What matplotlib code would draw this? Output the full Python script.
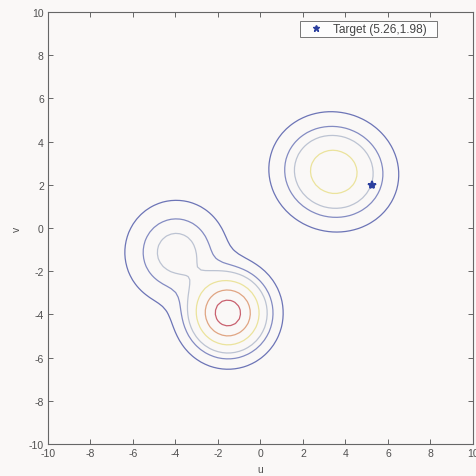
import numpy as np
import matplotlib
matplotlib.use("Agg")
import matplotlib.pyplot as plt
from matplotlib.lines import Line2D

plt.rcParams["font.family"] = ["Liberation Sans", "DejaVu Sans"]
plt.rcParams["axes.unicode_minus"] = False

# Gaussian mixture components: weight, mean (u, v), covariance
weights = [0.470, 0.167, 0.363]
mean_u = [-1.53, -3.97, 3.45]
mean_v = [-3.94, -1.13, 2.60]
cov_uu = [1.00, 1.51, 1.77]
cov_vv = [1.00, 1.51, 1.47]
cov_uv = [0.0, 0.0, -0.07]

# contour levels of the log density
log_levels = [-5.97, -4.84, -4.30, -3.67, -3.15, -2.77]
level_colors = ["#6c74b6", "#838bc2", "#bcc3d2", "#ebe39c", "#e0a583", "#c9616f"]

target_u, target_v = 5.26, 1.98
axis_ticks = [-10, -8, -6, -4, -2, 0, 2, 4, 6, 8, 10]

u = np.linspace(-10, 10, 101)
v = np.linspace(-10, 10, 101)
U, V = np.meshgrid(u, v)

density = np.zeros_like(U)
for w, mu, mv, a, d, b in zip(weights, mean_u, mean_v, cov_uu, cov_vv, cov_uv):
    det = a * d - b * b
    du, dv = U - mu, V - mv
    q = (d * du * du - 2 * b * du * dv + a * dv * dv) / det
    density += w * np.exp(-0.5 * q) / (2 * np.pi * np.sqrt(det))
Z = np.log(density)

bg = "#faf8f7"
fig = plt.figure(figsize=(4.77, 4.77), dpi=100, facecolor=bg)
ax = fig.add_axes([0.1006, 0.067, 0.891, 0.9057], facecolor=bg)

ax.contour(U, V, Z, levels=log_levels, colors=level_colors, linewidths=0.9)
ax.plot([target_u], [target_v], linestyle="none", marker="*", color="#2b3f9e",
        markersize=6, markeredgewidth=1.3)

ax.set_xlim(-10, 10)
ax.set_ylim(-10, 10)
ax.set_xticks(axis_ticks)
ax.set_yticks(axis_ticks)
txt = "#505050"
ax.tick_params(direction="in", length=3.5, width=0.7, colors="#666666",
               labelcolor=txt, labelsize=7.5, top=True, right=True, pad=3)
for s in ax.spines.values():
    s.set_color("#666666")
    s.set_linewidth(0.8)
ax.set_xlabel("u", fontsize=7.5, color=txt, labelpad=4)
ax.set_ylabel("v", fontsize=7.5, color=txt, labelpad=5)

handle = Line2D([], [], linestyle="none", marker="*", color="#2b3f9e",
                markersize=5, markeredgewidth=1.0)
leg = ax.legend([handle], ["Target (5.26,1.98)"], loc="upper left",
                bbox_to_anchor=(0.593, 0.0, 0.322, 0.979), mode="expand",
                fontsize=8.6, frameon=True, fancybox=False, borderpad=0.15,
                handletextpad=0.22, borderaxespad=0.0, handlelength=2.4)
leg.get_frame().set_edgecolor("#555555")
leg.get_frame().set_linewidth(0.7)
leg.get_frame().set_facecolor("white")
for t in leg.get_texts():
    t.set_color("#444444")

fig.savefig("out.png", dpi=100, facecolor=bg)
